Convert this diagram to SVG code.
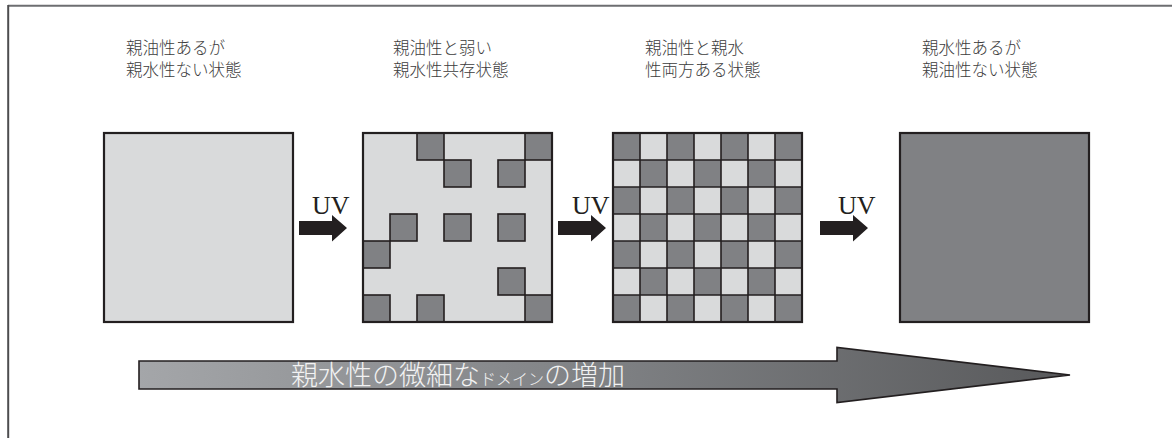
<svg xmlns="http://www.w3.org/2000/svg" width="1172" height="438" viewBox="0 0 1172 438">
<style>
.lbl{font-family:"Noto Sans CJK JP","Noto Sans CJK SC",sans-serif;font-size:16.5px;font-weight:300;fill:#3c3c3c;}
.uv{font-family:"Liberation Serif",serif;font-size:26px;fill:#231f20;}
.lt{fill:#d9dadb;}
.dk{fill:#808184;stroke:#231f20;stroke-width:1.6;}
.frm{fill:none;stroke:#231f20;stroke-width:2.2;}
.big{font-family:"Noto Sans CJK JP","Noto Sans CJK SC",sans-serif;font-weight:300;fill:#f2f2f2;}
</style>
<defs>
<path id="uvarrow" d="M0,-7 L33,-7 L33,-13 L48,0 L33,13.5 L33,7 L0,7 Z" fill="#231f20"/>
<linearGradient id="grad" x1="139" y1="0" x2="1070" y2="0" gradientUnits="userSpaceOnUse">
<stop offset="0" stop-color="#a4a6a9"/>
<stop offset="0.5" stop-color="#7f8184"/>
<stop offset="1" stop-color="#58595b"/>
</linearGradient>
<pattern id="chk" x="613" y="133" width="54" height="54" patternUnits="userSpaceOnUse">
<rect width="54" height="54" fill="#d9dadb"/>
<rect width="27" height="27" fill="#808184"/>
<rect x="27" y="27" width="27" height="27" fill="#808184"/>
</pattern>
</defs>
<rect width="1172" height="438" fill="#ffffff"/>
<g id="frame">
<line x1="8" y1="5.8" x2="1172" y2="5.8" stroke="#6d6e71" stroke-width="2"/>
<line x1="8.2" y1="5" x2="8.2" y2="438" stroke="#4d4d4f" stroke-width="2"/>
</g>
<g id="state1">
<text class="lbl"><tspan x="126" y="54">親油性あるが</tspan><tspan x="126" y="76">親水性ない状態</tspan></text>
<rect x="104" y="133" width="189" height="189" class="frm" style="fill:#d9dadb"/>
</g>
<g id="state2">
<text class="lbl"><tspan x="393" y="54">親油性と弱い</tspan><tspan x="393" y="76">親水性共存状態</tspan></text>
<rect x="363" y="133" width="189" height="189" class="lt"/>
<rect class="dk" x="417" y="133" width="27" height="27"/>
<rect class="dk" x="525" y="133" width="27" height="27"/>
<rect class="dk" x="444" y="160" width="27" height="27"/>
<rect class="dk" x="498" y="160" width="27" height="27"/>
<rect class="dk" x="390" y="214" width="27" height="27"/>
<rect class="dk" x="444" y="214" width="27" height="27"/>
<rect class="dk" x="498" y="214" width="27" height="27"/>
<rect class="dk" x="363" y="241" width="27" height="27"/>
<rect class="dk" x="498" y="268" width="27" height="27"/>
<rect class="dk" x="363" y="295" width="27" height="27"/>
<rect class="dk" x="417" y="295" width="27" height="27"/>
<rect class="dk" x="525" y="295" width="27" height="27"/>
<rect x="363" y="133" width="189" height="189" class="frm"/>
</g>
<g id="state3">
<text class="lbl"><tspan x="645" y="54">親油性と親水</tspan><tspan x="645" y="76">性両方ある状態</tspan></text>
<rect x="613" y="133" width="189" height="189" fill="url(#chk)"/>
<path d="M640,133V322M667,133V322M694,133V322M721,133V322M748,133V322M775,133V322M613,160H802M613,187H802M613,214H802M613,241H802M613,268H802M613,295H802" stroke="#231f20" stroke-width="1.6" fill="none"/>
<rect x="613" y="133" width="189" height="189" class="frm"/>
</g>
<g id="state4">
<text class="lbl"><tspan x="922" y="54">親水性あるが</tspan><tspan x="922" y="76">親油性ない状態</tspan></text>
<rect x="900" y="133" width="189" height="189" class="frm" style="fill:#808184"/>
</g>
<g id="connectors">
<use href="#uvarrow" x="299" y="228"/>
<text class="uv" x="312" y="214">UV</text>
<use href="#uvarrow" x="558" y="228"/>
<text class="uv" x="572" y="214">UV</text>
<use href="#uvarrow" x="820" y="228"/>
<text class="uv" x="838" y="214">UV</text>
</g>
<g id="trend">
<path d="M139,361 L837,361 L837,347.5 L1070,375 L837,402.5 L837,389 L139,389 Z" fill="url(#grad)" stroke="#231f20" stroke-width="1.6"/>
<text class="big" x="291" y="385" font-size="27">親水性の微細な<tspan font-size="16">ドメイン</tspan>の増加</text>
</g>
</svg>
